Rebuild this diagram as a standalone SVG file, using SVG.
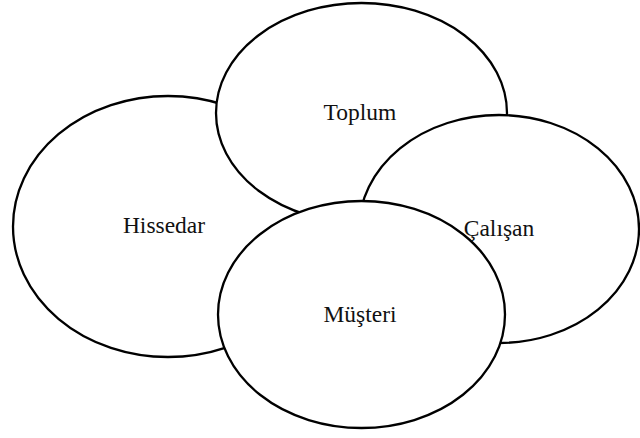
<svg xmlns="http://www.w3.org/2000/svg" width="640" height="438" viewBox="0 0 640 438">
  <style>
    .set { fill: #ffffff; stroke: #000000; stroke-width: 2.3; }
    .lbl { font-family: "Liberation Serif", "Times New Roman", serif; font-size: 23.5px; fill: #111111; text-anchor: middle; }
  </style>
  <rect width="640" height="438" fill="#ffffff"/>
  <!-- stakeholder sets, back to front -->
  <g id="hissedar">
    <ellipse class="set" cx="168" cy="226.5" rx="155" ry="130.5"/>
  </g>
  <g id="toplum">
    <ellipse class="set" cx="361.5" cy="113" rx="145.5" ry="110"/>
  </g>
  <g id="calisan">
    <ellipse class="set" cx="499" cy="229" rx="140" ry="114"/>
  </g>
  <g id="musteri">
    <ellipse class="set" cx="361.5" cy="314.5" rx="143.5" ry="113.5"/>
  </g>
  <!-- labels sit above every outline -->
  <g id="labels">
    <text class="lbl" x="164" y="233">Hissedar</text>
    <text class="lbl" x="360" y="120">Toplum</text>
    <text class="lbl" x="499" y="236">Çalışan</text>
    <text class="lbl" x="360" y="322">Müşteri</text>
  </g>
</svg>
